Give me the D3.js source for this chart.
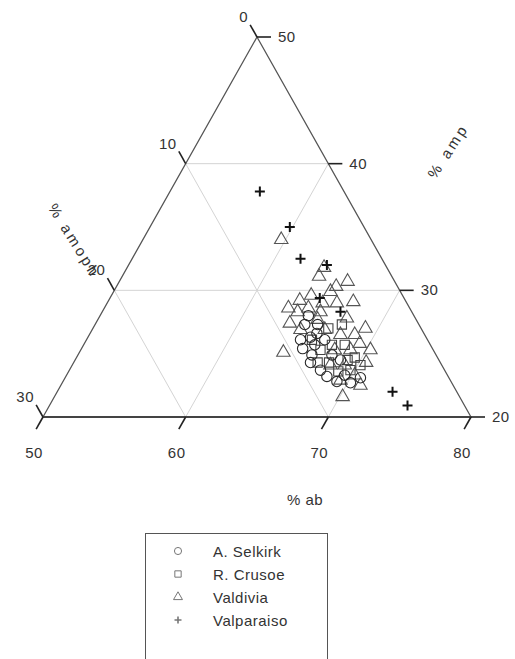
<!DOCTYPE html>
<html>
<head>
<meta charset="utf-8">
<script src="https://cdn.jsdelivr.net/npm/d3@7"></script>
<style>
  html, body { margin: 0; padding: 0; background: #fff; }
  svg { display: block; }
  text { font-family: "Liberation Sans", Arial, sans-serif; fill: #333; }
</style>
</head>
<body>
<svg id="chart" width="515" height="659"></svg>
<script>
// ---- data (ternary: % ab, % amp; % amoph is the remainder to 100) ----
const abTicks = [50, 60, 70, 80];
const ampTicks = [20, 30, 40, 50];
const amophTicks = [0, 10, 20, 30];

const seriesNames = ["A. Selkirk", "R. Crusoe", "Valdivia", "Valparaiso"];

const selkirkAb  = [65.5, 65.6, 65.9, 66.6, 68.3, 70.2, 64.7, 66.4, 67.6, 69.2, 66.7, 64.6, 65.0, 66.2, 70.7, 67.8, 69.5, 65.6, 68.6];
const selkirkAmp = [25.4, 26.3, 26.6, 24.3, 23.2, 22.7, 27.3, 24.9, 23.7, 22.8, 26.1, 28.0, 26.1, 25.7, 23.1, 24.9, 23.3, 27.3, 24.5];

const crusoeAb  = [66.8, 67.4, 69.1, 69.7, 67.9, 69.5, 68.3, 68.9, 67.1, 70.2, 66.5, 67.3, 65.8];
const crusoeAmp = [25.3, 25.7, 24.5, 23.7, 24.3, 24.7, 25.7, 23.6, 24.3, 24.1, 27.0, 27.3, 26.1];

const valdiviaAb  = [59.7, 63.8, 63.8, 65.4, 66.0, 62.9, 64.3, 66.1, 67.2, 63.6, 65.4, 67.4, 64.3, 70.3, 70.2, 70.5, 64.6, 66.3, 67.6, 68.6, 67.8, 68.9, 69.3, 68.1, 69.1, 70.2, 69.4, 69.1, 63.4, 65.1, 64.0, 65.2, 71.0, 63.7, 65.3];
const valdiviaAmp = [34.0, 31.1, 31.8, 30.3, 30.7, 28.6, 28.6, 29.0, 29.1, 27.4, 27.7, 27.8, 25.1, 25.3, 21.6, 24.3, 26.9, 26.9, 26.5, 26.5, 25.3, 25.3, 25.8, 24.1, 24.1, 23.3, 22.9, 27.0, 29.2, 29.0, 29.6, 29.9, 22.5, 28.3, 28.3];

const valparaisoAb  = [56.3, 59.8, 61.8, 63.9, 64.7, 66.7, 73.5, 75.1];
const valparaisoAmp = [37.8, 35.0, 32.5, 32.0, 29.4, 28.3, 22.0, 20.9];

// ---- geometry ----
const svg = d3.select("#chart");
const X0 = 43;
const abX = d3.scaleLinear().domain([50, 80]).range([0, 428]);
const ampY = d3.scaleLinear().domain([20, 50]).range([417, 37]);
const ampShift = d3.scaleLinear().domain([20, 50]).range([0, 214]);
function pos(ab, amp) { return [X0 + abX(ab) + ampShift(amp), ampY(amp)]; }

const line = d3.line();
const gGrid = svg.append("g");
ampTicks.slice(1, -1).forEach(a => {
  gGrid.append("path").attr("d", line([pos(50, a), pos(100 - a, a)]))
    .attr("stroke", "#d4d4d4").attr("stroke-width", 1).attr("fill", "none");
});
abTicks.slice(1, -1).forEach(b => {
  gGrid.append("path").attr("d", line([pos(b, 20), pos(b, 100 - b)]))
    .attr("stroke", "#d4d4d4").attr("stroke-width", 1).attr("fill", "none");
});
amophTicks.slice(1, -1).forEach(m => {
  gGrid.append("path").attr("d", line([pos(80 - m, 20), pos(50, 50 - m)]))
    .attr("stroke", "#d4d4d4").attr("stroke-width", 1).attr("fill", "none");
});

svg.append("path")
  .attr("d", line([pos(50, 50), pos(80, 20), pos(50, 20)]) + "Z")
  .attr("fill", "none").attr("stroke", "#555").attr("stroke-width", 1.3);
svg.append("path").attr("d", line([pos(50, 20), pos(80, 20)]))
  .attr("fill", "none").attr("stroke", "#444").attr("stroke-width", 1.8);

// ticks
const gT = svg.append("g").attr("stroke", "#222").attr("stroke-width", 1.6);
const tl = 14, ux = 214 / Math.hypot(214, 380), uy = 380 / Math.hypot(214, 380);
abTicks.forEach(b => {
  const p = pos(b, 20);
  gT.append("line").attr("x1", p[0]).attr("y1", p[1]).attr("x2", p[0] - tl * ux).attr("y2", p[1] + tl * uy);
  svg.append("text").attr("x", p[0] - 9).attr("y", p[1] + 41).attr("text-anchor", "middle")
    .attr("font-size", 15).attr("letter-spacing", 0.5).text(b);
});
ampTicks.forEach(a => {
  const p = pos(100 - a, a);
  gT.append("line").attr("x1", p[0]).attr("y1", p[1]).attr("x2", p[0] + tl).attr("y2", p[1]);
  svg.append("text").attr("x", p[0] + 21).attr("y", p[1] + 5).attr("text-anchor", "start")
    .attr("font-size", 15).attr("letter-spacing", 0.5).text(a);
});
amophTicks.forEach(m => {
  const p = pos(50, 50 - m);
  gT.append("line").attr("x1", p[0]).attr("y1", p[1]).attr("x2", p[0] - tl * ux).attr("y2", p[1] - tl * uy);
  svg.append("text").attr("x", p[0] - 9).attr("y", p[1] - 15).attr("text-anchor", "end")
    .attr("font-size", 15).attr("letter-spacing", 0.5).text(m);
});

// axis titles
svg.append("text").attr("x", 305).attr("y", 505).attr("text-anchor", "middle")
  .attr("font-size", 15).attr("letter-spacing", 0.5).text("% ab");
svg.append("text").attr("transform", "translate(448,151) rotate(-57)").attr("text-anchor", "middle")
  .attr("dy", "0.35em").attr("font-size", 15).attr("letter-spacing", 3).text("% amp");
svg.append("text").attr("transform", "translate(52,205) rotate(58)").attr("text-anchor", "start")
  .attr("dy", "0.35em").attr("font-size", 15).attr("letter-spacing", 3).text("% amoph");

// points
const sym = {
  circle: d3.symbol().type(d3.symbolCircle).size(85)(),
  square: d3.symbol().type(d3.symbolSquare).size(85)(),
  triangle: d3.symbol().type(d3.symbolTriangle).size(78)(),
  plus: "M-5,0H5M0,-5V5"
};
const groups = [
  { ab: valdiviaAb, amp: valdiviaAmp, s: "triangle", c: "#555", w: 1.1 },
  { ab: crusoeAb, amp: crusoeAmp, s: "square", c: "#444", w: 1.1 },
  { ab: selkirkAb, amp: selkirkAmp, s: "circle", c: "#2a2a2a", w: 1.1 },
  { ab: valparaisoAb, amp: valparaisoAmp, s: "plus", c: "#111", w: 2 }
];
groups.forEach(g => {
  const pts = g.ab.map((b, i) => pos(b, g.amp[i]));
  svg.append("g").selectAll("path").data(pts).join("path")
    .attr("transform", d => `translate(${d[0]},${d[1]})`)
    .attr("d", sym[g.s]).attr("fill", "none").attr("stroke", g.c).attr("stroke-width", g.w);
});

// legend
const lg = svg.append("g");
lg.append("rect").attr("x", 145.5).attr("y", 533.5).attr("width", 182).attr("height", 140)
  .attr("fill", "none").attr("stroke", "#555").attr("stroke-width", 1);
const legSym = [
  d3.symbol().type(d3.symbolCircle).size(40)(),
  d3.symbol().type(d3.symbolSquare).size(40)(),
  d3.symbol().type(d3.symbolTriangle).size(35)(),
  "M-3.5,0H3.5M0,-3.5V3.5"
];
seriesNames.forEach((n, i) => {
  const y = 551 + i * 23;
  lg.append("path").attr("transform", `translate(178,${y})`).attr("d", legSym[i])
    .attr("fill", "none").attr("stroke", "#777").attr("stroke-width", i === 3 ? 1.6 : 1);
  lg.append("text").attr("x", 213).attr("y", y + 5.5).attr("font-size", 15)
    .attr("letter-spacing", 0.5).text(n);
});
</script>
</body>
</html>
